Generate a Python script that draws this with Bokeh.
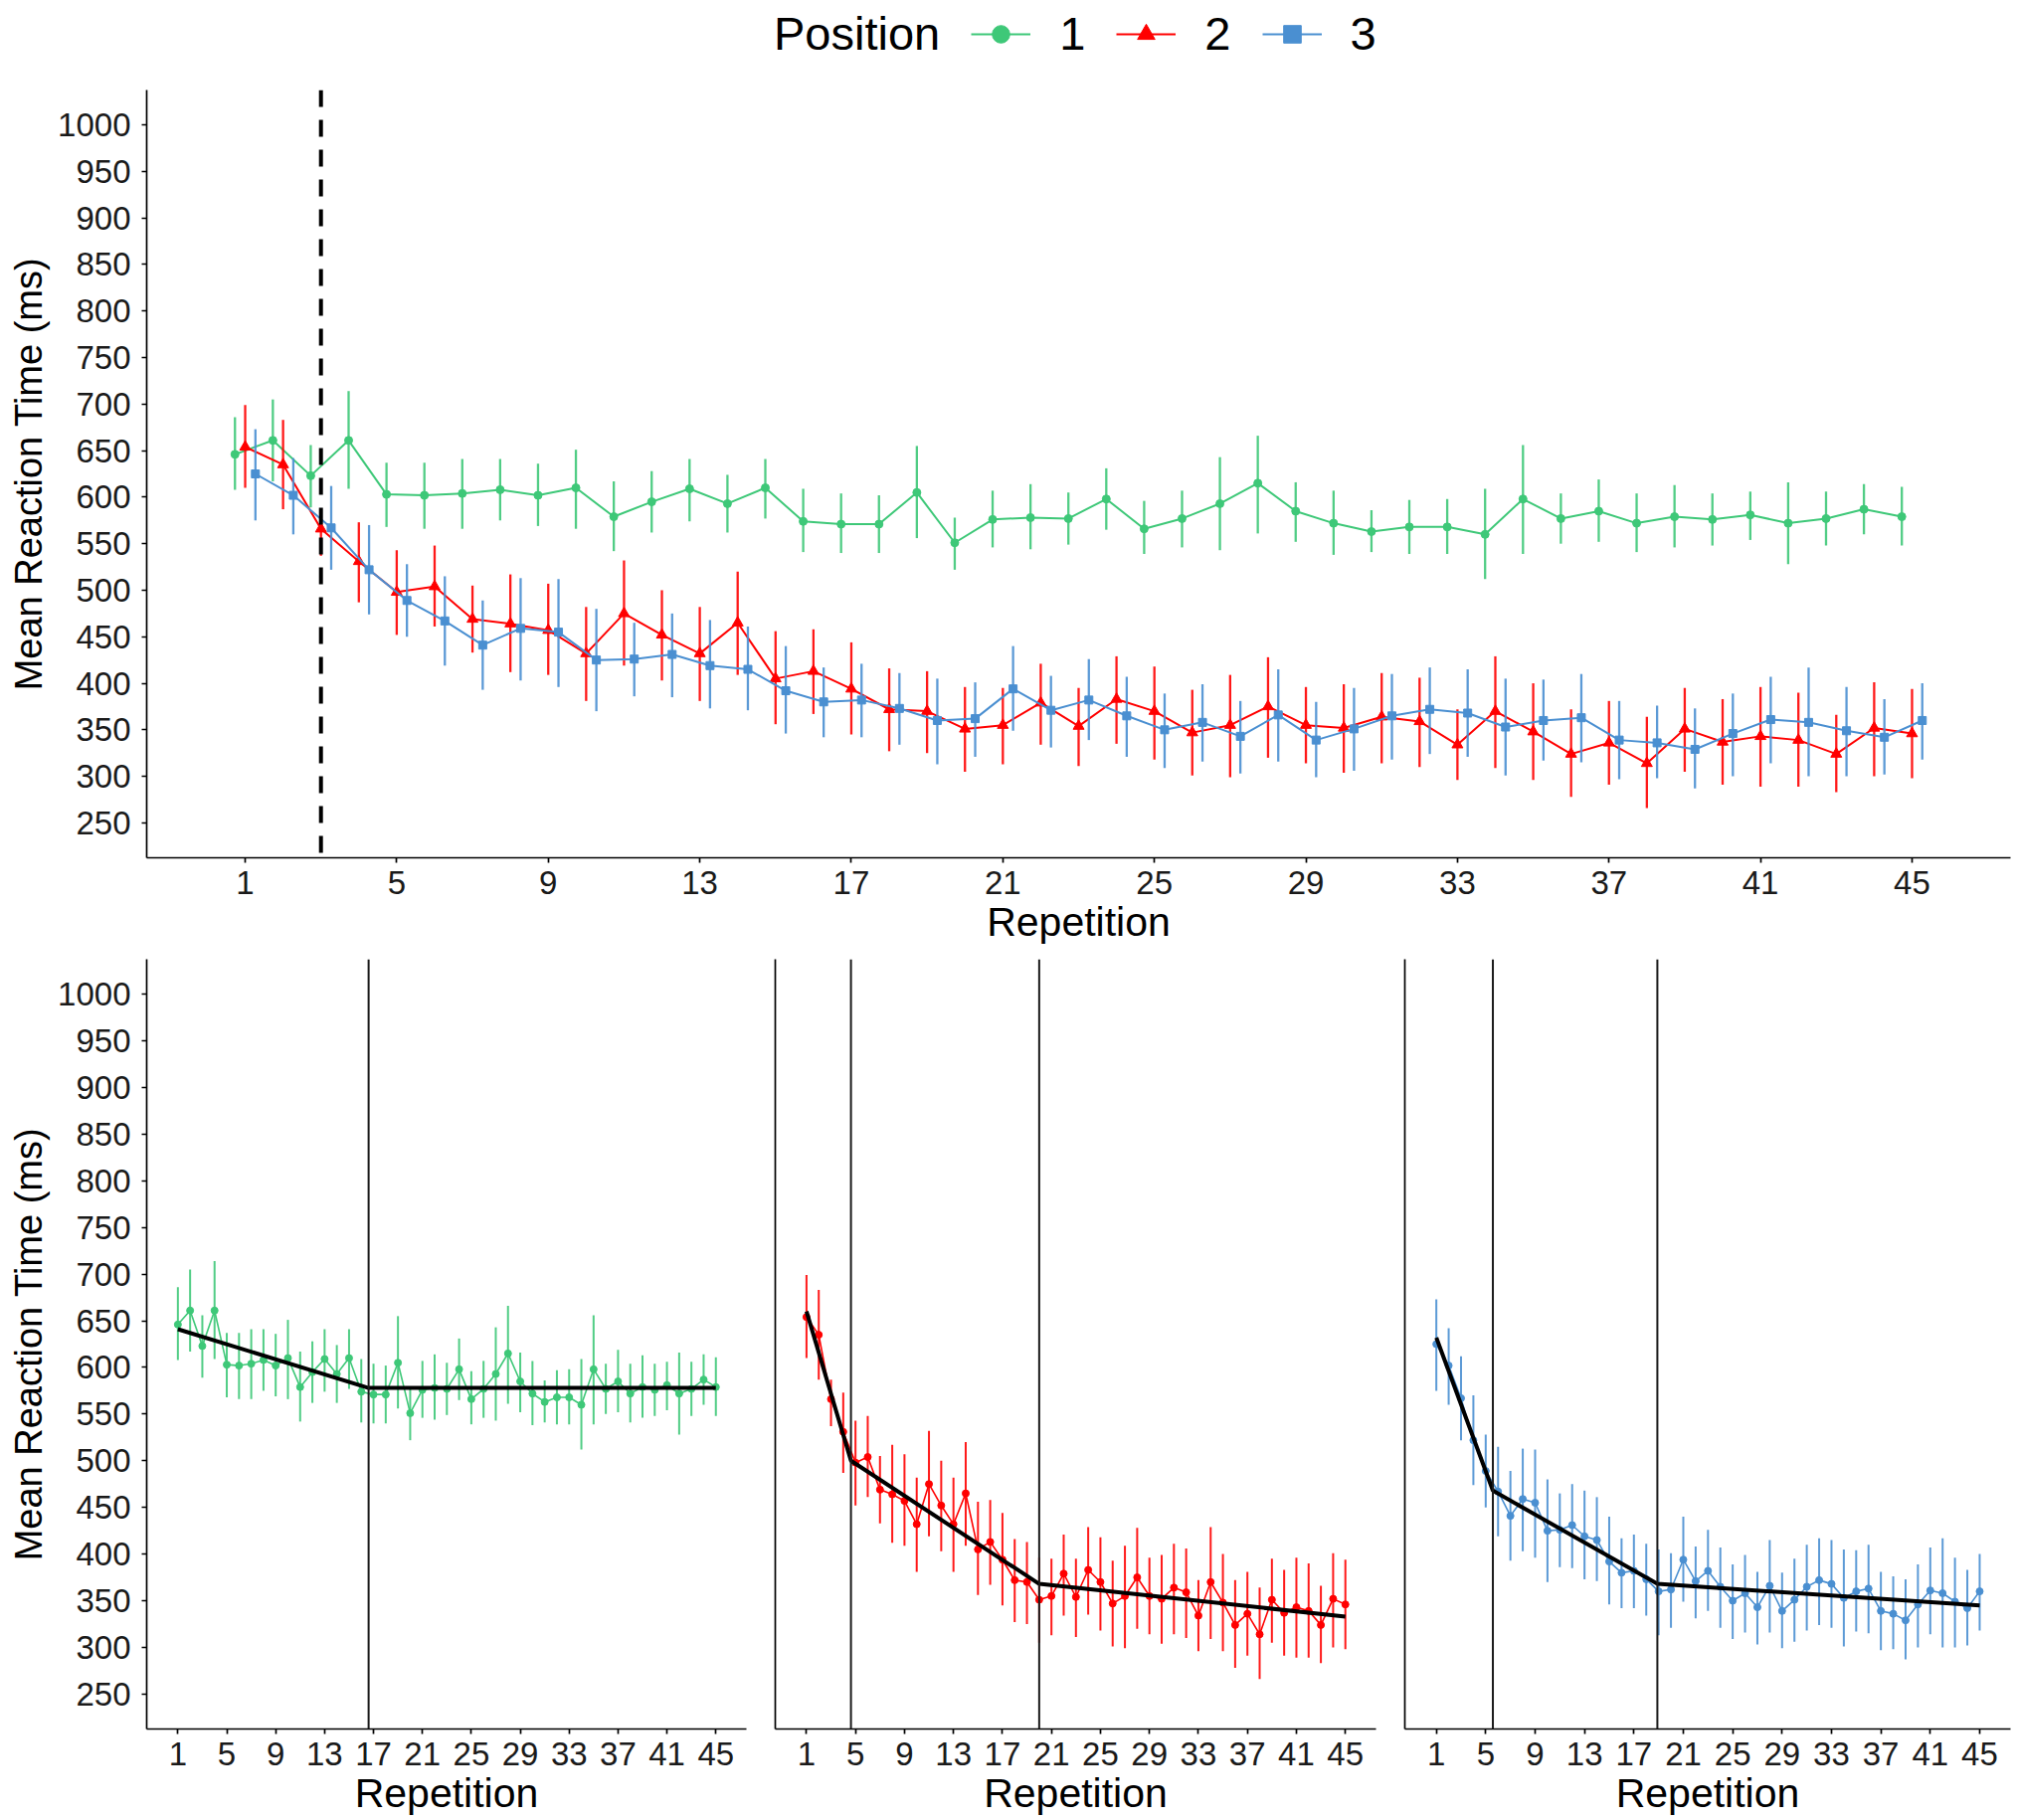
from bokeh.plotting import figure
from bokeh.models import Range1d, FixedTicker, Span, Legend, LegendItem
from bokeh.layouts import column, row
from bokeh.embed import file_html
from bokeh.resources import INLINE

# ---------------- data ----------------
repetition = list(range(1, 46))

pos1_mean = [646, 661, 623, 661, 603, 602, 604, 608, 602, 610, 579, 595, 609, 593, 610,
             574, 571, 571, 605, 551, 576, 578, 577, 598, 566, 577, 593, 615, 585, 572,
             563, 568, 568, 560, 598, 577, 585, 572, 579, 576, 581, 572, 577, 587, 579]
pos1_hi = [686, 705, 656, 714, 637, 637, 641, 641, 636, 651, 617, 628, 641, 624, 641,
           609, 604, 602, 655, 578, 607, 614, 605, 631, 596, 607, 643, 666, 616, 607,
           586, 597, 598, 609, 656, 604, 619, 604, 613, 604, 606, 616, 606, 614, 611]
pos1_lo = [608, 617, 589, 609, 568, 566, 566, 575, 569, 566, 542, 562, 574, 562, 577,
           541, 540, 540, 556, 522, 546, 544, 549, 565, 539, 546, 543, 561, 552, 538,
           541, 539, 539, 512, 539, 550, 552, 541, 546, 548, 554, 528, 548, 560, 548]

pos2_mean = [654, 635, 566, 531, 498, 504, 469, 464, 457, 432, 475, 452, 432, 465, 405,
             413, 394, 372, 370, 351, 355, 379, 354, 383, 370, 347, 355, 375, 355, 352,
             364, 359, 334, 370, 348, 324, 336, 314, 351, 337, 343, 339, 324, 352, 346]
pos2_hi = [699, 683, 587, 573, 543, 548, 505, 517, 507, 482, 532, 500, 482, 520, 456,
           458, 444, 416, 413, 396, 395, 421, 395, 429, 418, 393, 409, 428, 396, 399,
           411, 406, 372, 429, 400, 372, 381, 364, 395, 383, 396, 390, 366, 401, 394]
pos2_lo = [610, 587, 537, 487, 452, 461, 433, 412, 409, 381, 419, 403, 381, 409, 356,
           367, 345, 327, 325, 305, 313, 334, 311, 335, 318, 301, 299, 320, 314, 304,
           314, 310, 296, 309, 296, 278, 291, 266, 305, 291, 289, 289, 283, 300, 298]

pos3_mean = [625, 602, 567, 522, 489, 467, 441, 459, 455, 425, 426, 431, 419, 415, 392,
             380, 382, 373, 360, 362, 394, 371, 382, 365, 350, 358, 343, 366, 339, 351,
             365, 372, 368, 353, 360, 363, 339, 336, 329, 346, 361, 358, 349, 342, 360]
pos3_hi = [673, 642, 612, 570, 528, 515, 489, 513, 512, 480, 465, 475, 468, 461, 440,
           417, 421, 411, 405, 401, 440, 408, 426, 407, 389, 399, 381, 415, 380, 395,
           410, 417, 415, 405, 404, 410, 381, 376, 373, 389, 407, 417, 396, 383, 400]
pos3_lo = [575, 560, 522, 474, 450, 419, 393, 403, 396, 370, 386, 385, 373, 371, 346,
           342, 342, 334, 313, 321, 349, 331, 339, 321, 309, 316, 303, 316, 299, 306,
           318, 324, 321, 301, 317, 315, 297, 298, 287, 300, 314, 300, 300, 302, 318]

# piecewise fits (breakpoints and fitted values)
fit1_x = [1, 16.6, 45]
fit1_y = [641, 578, 578]
fit2_x = [1, 4.63, 20.0, 45]
fit2_y = [660, 500, 368, 333]
fit3_x = [1, 5.58, 18.9, 45]
fit3_y = [632, 468, 368, 345]
breaks1 = [16.6]
breaks2 = [4.63, 20.0]
breaks3 = [5.58, 18.9]

dashed_rep = 3
dodge = 0.27
x_ticks = list(range(1, 46, 4))
y_ticks = list(range(250, 1001, 50))
legend_title = "Position"
position_labels = ["1", "2", "3"]

# ---------------- style ----------------
FONT = "Liberation Sans"
GREEN = "#3EC878"
RED = "#FF0000"
BLUE = "#4A8FD1"
TICK_FS = "33px"
XTITLE_FS = "41px"
YTITLE_FS = "38px"


def style(p, y_labels=True):
    p.xgrid.visible = False
    p.ygrid.visible = False
    p.outline_line_color = None
    p.background_fill_color = "white"
    for ax in (p.xaxis[0], p.yaxis[0]):
        ax.axis_line_width = 1.7
        ax.axis_line_color = "black"
        ax.major_tick_line_width = 1.7
        ax.major_tick_line_color = "black"
        ax.major_tick_in = 0
        ax.major_tick_out = 5
        ax.minor_tick_line_color = None
        ax.major_label_text_font = FONT
        ax.major_label_text_font_size = TICK_FS
        ax.major_label_text_color = "#1a1a1a"
        ax.axis_label_text_font = FONT
        ax.axis_label_text_font_style = "normal"
        ax.axis_label_text_color = "black"
    p.xaxis.ticker = FixedTicker(ticks=x_ticks)
    p.xaxis.major_label_standoff = 8
    p.xaxis.axis_label = "Repetition"
    p.xaxis.axis_label_text_font_size = XTITLE_FS
    p.xaxis.axis_label_standoff = 2
    if y_labels:
        p.yaxis.ticker = FixedTicker(ticks=y_ticks)
        p.yaxis.major_label_standoff = 11
        p.yaxis.axis_label = "Mean Reaction Time (ms)"
        p.yaxis.axis_label_text_font_size = YTITLE_FS
        p.yaxis.axis_label_standoff = 5
    else:
        p.yaxis.ticker = FixedTicker(ticks=[])
        p.yaxis.major_tick_out = 0


# ---------------- legend figure ----------------
# renderers carry the real series but lie outside this strip's range; only their legend keys show
leg = figure(width=2028, height=90, x_range=Range1d(-1.6, 47.6), y_range=Range1d(2000, 2001),
             output_backend="svg", toolbar_location=None,
             min_border_left=147, min_border_right=7, min_border_top=0, min_border_bottom=0)
leg.axis.visible = False
leg.xgrid.visible = False
leg.ygrid.visible = False
leg.outline_line_color = None
r_blank = leg.scatter(repetition, pos1_mean, size=1, fill_alpha=0, line_alpha=0)
lg1 = leg.line(repetition, pos1_mean, line_color=GREEN, line_width=2.2)
sg1 = leg.scatter(repetition, pos1_mean, marker="circle", size=17, color=GREEN)
lg2 = leg.line(repetition, pos2_mean, line_color=RED, line_width=2.2)
sg2 = leg.scatter(repetition, pos2_mean, marker="triangle", size=22, color=RED)
lg3 = leg.line(repetition, pos3_mean, line_color=BLUE, line_width=2.2)
sg3 = leg.scatter(repetition, pos3_mean, marker="square", size=15, color=BLUE)
legend = Legend(items=[LegendItem(label=legend_title, renderers=[r_blank]),
                       LegendItem(label=position_labels[0], renderers=[lg1, sg1]),
                       LegendItem(label=position_labels[1], renderers=[lg2, sg2]),
                       LegendItem(label=position_labels[2], renderers=[lg3, sg3])],
                location=(542, 29), orientation="horizontal",
                glyph_width=60, glyph_height=44, label_standoff=29, spacing=31,
                padding=0, margin=0, border_line_color=None, background_fill_alpha=0,
                label_text_font=FONT, label_text_font_size="47px", label_text_color="black")
leg.add_layout(legend)

# ---------------- top figure ----------------
top = figure(width=2028, height=867, x_range=Range1d(-1.6, 47.6), y_range=Range1d(212.5, 1037.5),
             output_backend="svg", toolbar_location=None,
             min_border_left=147, min_border_right=7, min_border_top=0, min_border_bottom=95)
style(top)

x1 = [r - dodge for r in repetition]
x2 = list(repetition)
x3 = [r + dodge for r in repetition]

series = [
    (x1, pos1_mean, pos1_lo, pos1_hi, GREEN, "circle", 8),
    (x2, pos2_mean, pos2_lo, pos2_hi, RED, "triangle", 11),
    (x3, pos3_mean, pos3_lo, pos3_hi, BLUE, "square", 8),
]
for xs, m, lo, hi, col, mk, sz in series:
    top.segment(x0=xs, y0=lo, x1=xs, y1=hi, line_color=col, line_width=2.3, line_alpha=0.9)
    top.line(xs, m, line_color=col, line_width=2)
    top.scatter(xs, m, marker=mk, size=sz, color=col)

top.add_layout(Span(location=dashed_rep, dimension="height", line_color="black",
                    line_width=4, line_dash="17 13"))

# ---------------- bottom figures ----------------
def bottom_fig(width, left, right, y_labels):
    p = figure(width=width, height=873, x_range=Range1d(-1.55, 47.5), y_range=Range1d(212.5, 1037.5),
               output_backend="svg", toolbar_location=None,
               min_border_left=left, min_border_right=right, min_border_top=7, min_border_bottom=92)
    style(p, y_labels)
    return p


b1 = bottom_fig(764, 147, 14, True)
b2 = bottom_fig(633, 15, 14, False)
b3 = bottom_fig(631, 15, 7, False)

panels = [
    (b1, pos1_mean, pos1_lo, pos1_hi, GREEN, fit1_x, fit1_y, breaks1),
    (b2, pos2_mean, pos2_lo, pos2_hi, RED, fit2_x, fit2_y, breaks2),
    (b3, pos3_mean, pos3_lo, pos3_hi, BLUE, fit3_x, fit3_y, breaks3),
]
for p, m, lo, hi, col, fx, fy, brks in panels:
    p.segment(x0=repetition, y0=lo, x1=repetition, y1=hi, line_color=col, line_width=2, line_alpha=0.9)
    p.line(repetition, m, line_color=col, line_width=1.6)
    p.scatter(repetition, m, marker="circle", size=7, color=col)
    for b in brks:
        p.add_layout(Span(location=b, dimension="height", line_color="#1a1a1a", line_width=2))
    p.line(fx, fy, line_color="black", line_width=4)

layout = column(leg, top, row(b1, b2, b3))

open("out.html", "w").write(file_html(layout, INLINE))
